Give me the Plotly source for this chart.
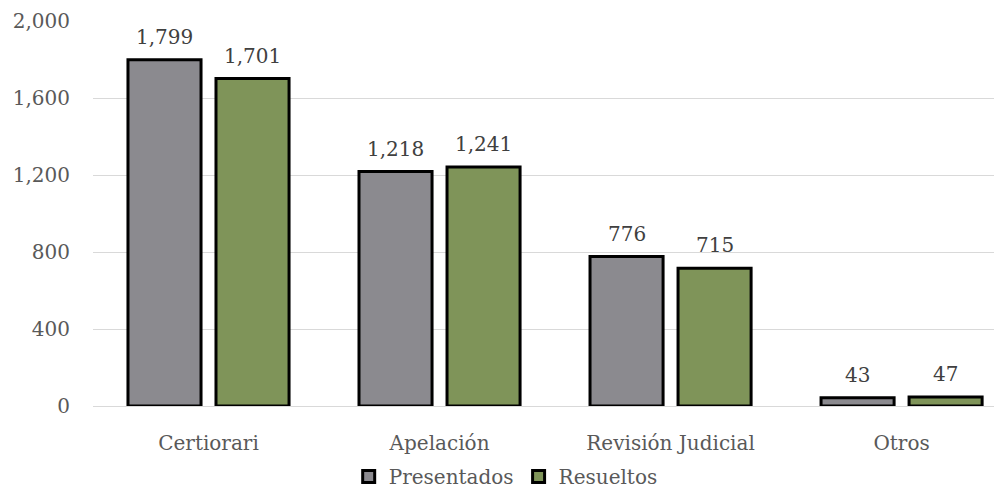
import plotly.graph_objects as go

categories = ["Certiorari", "Apelación", "Revisión Judicial", "Otros"]
presentados = [1799, 1218, 776, 43]
resueltos = [1701, 1241, 715, 47]
series_names = ["Presentados", "Resueltos"]
y_ticks = [0, 400, 800, 1200, 1600, 2000]

FONT = "DejaVu Serif"
FS = 20
BARGAP = 0.238
GROUPGAP = 0.17
slot = (1 - BARGAP) / 2
offsets = [-slot / 2, slot / 2]

fig = go.Figure()
series = [(series_names[0], presentados, "#8B8A8F"),
          (series_names[1], resueltos, "#7F9459")]
for (name, vals, color), off in zip(series, offsets):
    fig.add_trace(go.Bar(
        x=categories, y=vals, name=name,
        marker=dict(color=color, line=dict(color="black", width=3)),
    ))
    for i, v in enumerate(vals):
        fig.add_annotation(x=i + off, y=v, text=f"{v:,}", showarrow=False,
                           yanchor="bottom", xanchor="center", yshift=9,
                           font=dict(family=FONT, size=FS, color="#404040"))

fig.update_layout(
    width=1002, height=491,
    margin=dict(l=85, r=10, t=13, b=93, autoexpand=False),
    paper_bgcolor="white", plot_bgcolor="white",
    barmode="group", bargap=BARGAP, bargroupgap=GROUPGAP,
    font=dict(family=FONT, size=FS, color="#595959"),
    showlegend=True,
    legend=dict(orientation="h", x=0.455, xanchor="center",
                yref="container", y=0.046, yanchor="middle",
                font=dict(family=FONT, size=FS, color="#595959"),
                itemwidth=30, traceorder="normal"),
    xaxis=dict(range=[-0.5, 3.426], showgrid=False, showline=True,
               linecolor="#D9D9D9", linewidth=1, ticks="",
               ticklabelstandoff=19,
               tickfont=dict(family=FONT, size=FS, color="#595959")),
    yaxis=dict(range=[0, 2000], tickvals=y_ticks, tickformat=",d",
               showgrid=True, gridcolor="#D9D9D9", gridwidth=1,
               zeroline=False, showline=False, ticks="", ticklabelstandoff=22,
               tickfont=dict(family=FONT, size=FS, color="#595959")),
)

fig.write_html("out.html")
